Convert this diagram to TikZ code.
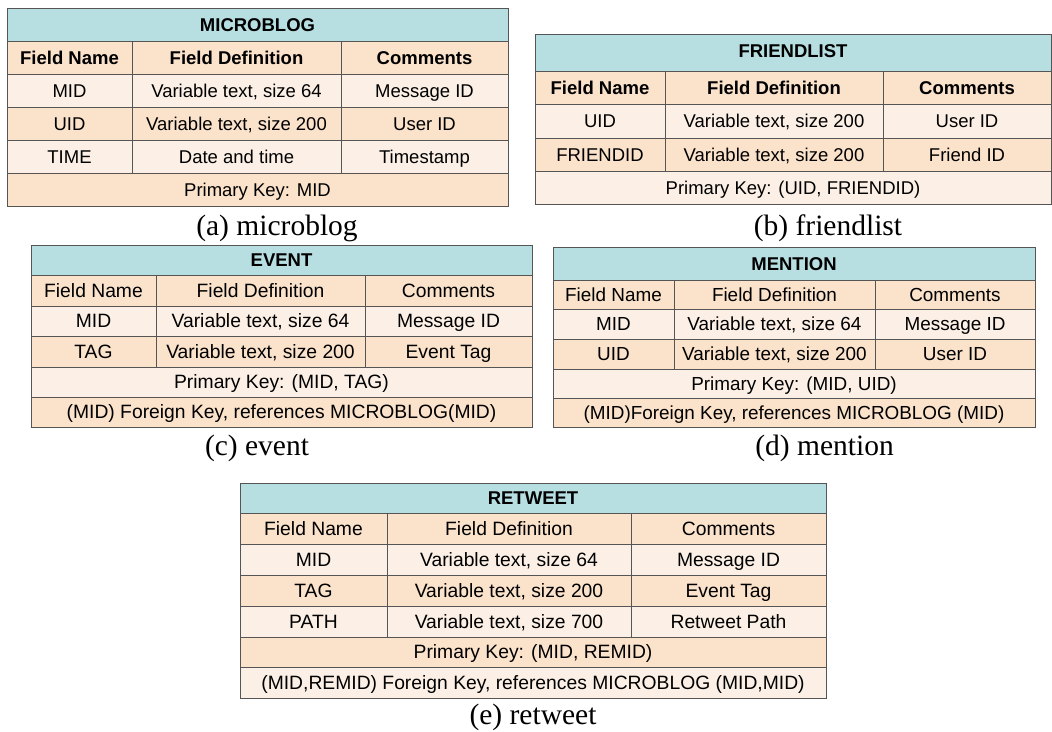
\documentclass[tikz,border=0pt]{standalone}
\usepackage{fontspec}
\setmainfont{Liberation Serif}
\newfontfamily\tabfont{Liberation Sans}
\usepackage{tikz}

\definecolor{titleblue}{RGB}{183,223,226}
\definecolor{peach}{RGB}{250,226,203}
\definecolor{cream}{RGB}{252,240,230}
\definecolor{gridgray}{RGB}{85,85,85}

\begin{document}
\begin{tikzpicture}[x = 1pt, y = -1pt,
	cell/.style = {font = \tabfont\fontsize{#1}{20}\selectfont, inner sep = 0pt, text height = 13.3pt, text depth = 0pt},
	cell/.default = 18.5,
	hcell/.style = {cell, font = \tabfont\bfseries\fontsize{18.5}{20}\selectfont},
	subcap/.style = {font = \fontsize{29.5}{32}\selectfont, inner sep = 0pt, text height = 19.5pt, text depth = 0pt},
	grid/.style = {draw = gridgray, line width = 0.8pt}]
	
		\useasboundingbox (0, 0) rectangle (1052, 731);
		
		% (a) microblog
		\fill[titleblue] (7, 8) rectangle (508, 41);
		\fill[peach] (7, 41) rectangle (508, 74);
		\fill[cream] (7, 74) rectangle (508, 107);
		\fill[peach] (7, 107) rectangle (508, 140);
		\fill[cream] (7, 140) rectangle (508, 173);
		\fill[peach] (7, 173) rectangle (508, 206);
		
		\draw[grid] (7, 8) rectangle (508, 206);
		\draw[grid] (7, 41) -- (508, 41);
		\draw[grid] (7, 74) -- (508, 74);
		\draw[grid] (7, 107) -- (508, 107);
		\draw[grid] (7, 140) -- (508, 140);
		\draw[grid] (7, 173) -- (508, 173);
		\draw[grid] (132, 41) -- (132, 173);
		\draw[grid] (341, 41) -- (341, 173);
		
		\node[hcell] (mbT) at (257.5, 24.5) {MICROBLOG};
		\node[hcell] (mbH1) at (69.5, 57.5) {Field Name};
		\node[hcell] (mbH2) at (236.5, 57.5) {Field Definition};
		\node[hcell] (mbH3) at (424.5, 57.5) {Comments};
		\node[cell] (mbA1) at (69.5, 90.5) {MID};
		\node[cell] (mbA2) at (236.5, 90.5) {Variable text, size 64};
		\node[cell] (mbA3) at (424.5, 90.5) {Message ID};
		\node[cell] (mbB1) at (69.5, 123.5) {UID};
		\node[cell] (mbB2) at (236.5, 123.5) {Variable text, size 200};
		\node[cell] (mbB3) at (424.5, 123.5) {User ID};
		\node[cell] (mbC1) at (69.5, 156.5) {TIME};
		\node[cell] (mbC2) at (236.5, 156.5) {Date and time};
		\node[cell] (mbC3) at (424.5, 156.5) {Timestamp};
		\node[cell] (mbK) at (257.5, 189.5) {Primary Key: MID};
		\node[subcap] (mbcap) at (277, 226) {(a) microblog};
		
		% (b) friendlist
		\fill[titleblue] (535, 34) rectangle (1051, 71);
		\fill[peach] (535, 71) rectangle (1051, 104);
		\fill[cream] (535, 104) rectangle (1051, 138);
		\fill[peach] (535, 138) rectangle (1051, 171);
		\fill[cream] (535, 171) rectangle (1051, 204);
		
		\draw[grid] (535, 34) rectangle (1051, 204);
		\draw[grid] (535, 71) -- (1051, 71);
		\draw[grid] (535, 104) -- (1051, 104);
		\draw[grid] (535, 138) -- (1051, 138);
		\draw[grid] (535, 171) -- (1051, 171);
		\draw[grid] (665, 71) -- (665, 171);
		\draw[grid] (883, 71) -- (883, 171);
		
		\node[hcell] (flT) at (793, 50.5) {FRIENDLIST};
		\node[hcell] (flH1) at (600, 87.5) {Field Name};
		\node[hcell] (flH2) at (774, 87.5) {Field Definition};
		\node[hcell] (flH3) at (967, 87.5) {Comments};
		\node[cell] (flA1) at (600, 121) {UID};
		\node[cell] (flA2) at (774, 121) {Variable text, size 200};
		\node[cell] (flA3) at (967, 121) {User ID};
		\node[cell] (flB1) at (600, 154.5) {FRIENDID};
		\node[cell] (flB2) at (774, 154.5) {Variable text, size 200};
		\node[cell] (flB3) at (967, 154.5) {Friend ID};
		\node[cell] (flK) at (793, 187.5) {Primary Key: (UID, FRIENDID)};
		\node[subcap] (flcap) at (828, 226) {(b) friendlist};
		
		% (c) event
		\fill[titleblue] (31, 245) rectangle (532, 275);
		\fill[peach] (31, 275) rectangle (532, 306);
		\fill[cream] (31, 306) rectangle (532, 336);
		\fill[peach] (31, 336) rectangle (532, 367);
		\fill[cream] (31, 367) rectangle (532, 397);
		\fill[peach] (31, 397) rectangle (532, 427);
		
		\draw[grid] (31, 245) rectangle (532, 427);
		\draw[grid] (31, 275) -- (532, 275);
		\draw[grid] (31, 306) -- (532, 306);
		\draw[grid] (31, 336) -- (532, 336);
		\draw[grid] (31, 367) -- (532, 367);
		\draw[grid] (31, 397) -- (532, 397);
		\draw[grid] (156, 275) -- (156, 367);
		\draw[grid] (365, 275) -- (365, 367);
		
		\node[hcell] (evT) at (281.5, 260) {EVENT};
		\node[cell = 19.3] (evH1) at (93.5, 290.5) {Field Name};
		\node[cell = 19.3] (evH2) at (260.5, 290.5) {Field Definition};
		\node[cell = 19.3] (evH3) at (448.5, 290.5) {Comments};
		\node[cell = 19.3] (evA1) at (93.5, 321) {MID};
		\node[cell = 19.3] (evA2) at (260.5, 321) {Variable text, size 64};
		\node[cell = 19.3] (evA3) at (448.5, 321) {Message ID};
		\node[cell = 19.3] (evB1) at (93.5, 351.5) {TAG};
		\node[cell = 19.3] (evB2) at (260.5, 351.5) {Variable text, size 200};
		\node[cell = 19.3] (evB3) at (448.5, 351.5) {Event Tag};
		\node[cell = 19.3] (evK) at (281.5, 382) {Primary Key: (MID, TAG)};
		\node[cell = 19.3] (evF) at (281.5, 412) {(MID) Foreign Key, references MICROBLOG(MID)};
		\node[subcap] (evcap) at (257, 446) {(c) event};
		
		% (d) mention
		\fill[titleblue] (553, 247) rectangle (1035, 280);
		\fill[peach] (553, 280) rectangle (1035, 309);
		\fill[cream] (553, 309) rectangle (1035, 339);
		\fill[peach] (553, 339) rectangle (1035, 369);
		\fill[cream] (553, 369) rectangle (1035, 398);
		\fill[peach] (553, 398) rectangle (1035, 427);
		
		\draw[grid] (553, 247) rectangle (1035, 427);
		\draw[grid] (553, 280) -- (1035, 280);
		\draw[grid] (553, 309) -- (1035, 309);
		\draw[grid] (553, 339) -- (1035, 339);
		\draw[grid] (553, 369) -- (1035, 369);
		\draw[grid] (553, 398) -- (1035, 398);
		\draw[grid] (674, 280) -- (674, 369);
		\draw[grid] (875, 280) -- (875, 369);
		
		\node[hcell] (mnT) at (794, 263.5) {MENTION};
		\node[cell = 18.9] (mnH1) at (613.5, 294.5) {Field Name};
		\node[cell = 18.9] (mnH2) at (774.5, 294.5) {Field Definition};
		\node[cell = 18.9] (mnH3) at (955, 294.5) {Comments};
		\node[cell = 18.9] (mnA1) at (613.5, 324) {MID};
		\node[cell = 18.9] (mnA2) at (774.5, 324) {Variable text, size 64};
		\node[cell = 18.9] (mnA3) at (955, 324) {Message ID};
		\node[cell = 18.9] (mnB1) at (613.5, 354) {UID};
		\node[cell = 18.9] (mnB2) at (774.5, 354) {Variable text, size 200};
		\node[cell = 18.9] (mnB3) at (955, 354) {User ID};
		\node[cell = 18.9] (mnK) at (794, 383.5) {Primary Key: (MID, UID)};
		\node[cell = 18.9] (mnF) at (794, 412.5) {(MID)Foreign Key, references MICROBLOG (MID)};
		\node[subcap] (mncap) at (824.5, 446) {(d) mention};
		
		% (e) retweet
		\fill[titleblue] (240, 483) rectangle (826, 513);
		\fill[peach] (240, 513) rectangle (826, 544);
		\fill[cream] (240, 544) rectangle (826, 575);
		\fill[peach] (240, 575) rectangle (826, 606);
		\fill[cream] (240, 606) rectangle (826, 637);
		\fill[peach] (240, 637) rectangle (826, 667);
		\fill[cream] (240, 667) rectangle (826, 698);
		
		\draw[grid] (240, 483) rectangle (826, 698);
		\draw[grid] (240, 513) -- (826, 513);
		\draw[grid] (240, 544) -- (826, 544);
		\draw[grid] (240, 575) -- (826, 575);
		\draw[grid] (240, 606) -- (826, 606);
		\draw[grid] (240, 637) -- (826, 637);
		\draw[grid] (240, 667) -- (826, 667);
		\draw[grid] (387, 513) -- (387, 637);
		\draw[grid] (631, 513) -- (631, 637);
		
		\node[hcell] (rtT) at (533, 498) {RETWEET};
		\node[cell = 19.3] (rtH1) at (313.5, 528.5) {Field Name};
		\node[cell = 19.3] (rtH2) at (509, 528.5) {Field Definition};
		\node[cell = 19.3] (rtH3) at (728.5, 528.5) {Comments};
		\node[cell = 19.3] (rtA1) at (313.5, 559.5) {MID};
		\node[cell = 19.3] (rtA2) at (509, 559.5) {Variable text, size 64};
		\node[cell = 19.3] (rtA3) at (728.5, 559.5) {Message ID};
		\node[cell = 19.3] (rtB1) at (313.5, 590.5) {TAG};
		\node[cell = 19.3] (rtB2) at (509, 590.5) {Variable text, size 200};
		\node[cell = 19.3] (rtB3) at (728.5, 590.5) {Event Tag};
		\node[cell = 19.3] (rtC1) at (313.5, 621.5) {PATH};
		\node[cell = 19.3] (rtC2) at (509, 621.5) {Variable text, size 700};
		\node[cell = 19.3] (rtC3) at (728.5, 621.5) {Retweet Path};
		\node[cell = 19.3] (rtK) at (533, 652) {Primary Key: (MID, REMID)};
		\node[cell = 19.3] (rtF) at (533, 682.5) {(MID,REMID) Foreign Key, references MICROBLOG (MID,MID)};
		\node[subcap] (rtcap) at (533, 714.5) {(e) retweet};
		
	\end{tikzpicture}
\end{document}
